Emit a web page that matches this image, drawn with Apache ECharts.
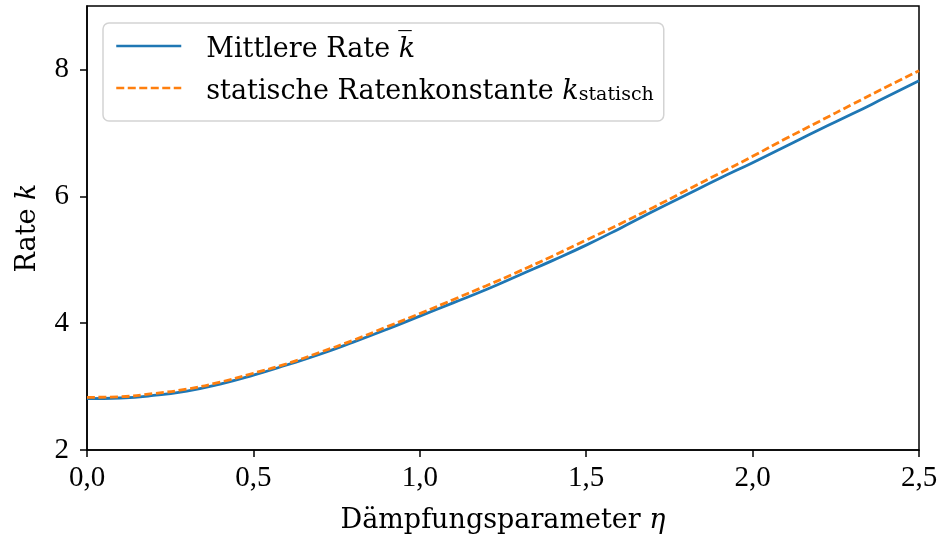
<!DOCTYPE html>
<html>
<head>
<meta charset="utf-8">
<script src="https://cdn.jsdelivr.net/npm/echarts@6/dist/echarts.min.js"></script>
<style>html,body{margin:0;padding:0;background:#fff;}#c{width:943px;height:539px;}</style>
</head>
<body>
<div id="c"></div>
<script>
// ---- data ----
const eta = [0.0,0.1,0.2,0.3,0.4,0.5,0.6,0.7,0.8,0.9,1.0,1.1,1.2,1.3,1.4,1.5,1.6,1.7,1.8,1.9,2.0,2.1,2.2,2.3,2.4,2.5];
const kMean = [2.81,2.82,2.86,2.93,3.04,3.18,3.34,3.51,3.70,3.90,4.11,4.32,4.53,4.76,4.99,5.23,5.49,5.76,6.02,6.28,6.53,6.79,7.05,7.30,7.56,7.82];
const kStatic = [2.83,2.84,2.89,2.96,3.07,3.21,3.36,3.54,3.73,3.94,4.15,4.37,4.59,4.82,5.06,5.31,5.56,5.82,6.09,6.36,6.63,6.91,7.18,7.45,7.72,7.98];
const xTicks = [0.0,0.5,1.0,1.5,2.0,2.5];
const yTicks = [2,4,6,8];
const seriesNames = ['Mittlere Rate', 'statische Ratenkonstante'];

const TICKFONT = 'Liberation Serif';
const TEXTFONT = 'DejaVu Serif';
const FS = 29;
const TFS = 27;

const chart = echarts.init(document.getElementById('c'), null, {renderer:'canvas'});
chart.setOption({
  backgroundColor: '#fff',
  animation: false,
  grid: {left: 87, right: 24, top: 6, bottom: 89, show: true, borderColor: '#000', borderWidth: 1.5},
  legend: {
    orient: 'vertical', left: 103, top: 23,
    padding: [13, 10, 16, 12],
    itemWidth: 65, itemHeight: 14, itemGap: 15,
    backgroundColor: 'rgba(255,255,255,0.8)',
    borderColor: '#d3d3d3', borderWidth: 1.5, borderRadius: 6,
    itemStyle: {opacity: 0},
    lineStyle: {width: 2.5},
    data: seriesNames,
    formatter: function (n) {
      if (n === seriesNames[0]) return '{t|' + n + ' }{i|k\u0305}';
      return '{t|' + n + ' }{i|k}{s|statisch}';
    },
    textStyle: {
      color: '#000', fontFamily: TEXTFONT, fontSize: TFS, padding: [0,0,0,20],
      rich: {
        t: {fontFamily: TEXTFONT, fontSize: TFS, lineHeight: 34, verticalAlign: 'bottom', color:'#000'},
        i: {fontFamily: TEXTFONT, fontStyle: 'italic', fontSize: TFS, lineHeight: 34, verticalAlign: 'bottom', color:'#000'},
        s: {fontFamily: TEXTFONT, fontSize: 19, lineHeight: 20, verticalAlign: 'bottom', color:'#000'}
      }
    }
  },
  xAxis: {
    type: 'value', min: 0, max: 2.5, interval: 0.5,
    name: '{t|Dämpfungsparameter }{i|η}',
    nameLocation: 'middle', nameGap: 57,
    nameTextStyle: {
      rich: {
        t: {fontFamily: TEXTFONT, fontSize: TFS, color: '#000'},
        i: {fontFamily: TEXTFONT, fontStyle: 'italic', fontSize: TFS, color: '#000'}
      }
    },
    axisLine: {show: true, onZero: false, lineStyle: {color: '#000', width: 1.5}},
    axisTick: {show: true, inside: false, length: 7, lineStyle: {color: '#000', width: 1.5}, customValues: xTicks},
    axisLabel: {color: '#000', fontFamily: TICKFONT, fontSize: FS, margin: 14, customValues: xTicks,
      formatter: v => v.toFixed(1).replace('.', ',')},
    splitLine: {show: false}
  },
  yAxis: {
    type: 'value', min: 2, max: 9, interval: 2,
    name: '{t|Rate }{i|k}',
    nameLocation: 'middle', nameGap: 46,
    nameTextStyle: {
      rich: {
        t: {fontFamily: TEXTFONT, fontSize: TFS, color: '#000'},
        i: {fontFamily: TEXTFONT, fontStyle: 'italic', fontSize: TFS, color: '#000'}
      }
    },
    axisLine: {show: true, onZero: false, lineStyle: {color: '#000', width: 1.5}},
    axisTick: {show: true, inside: false, length: 7, lineStyle: {color: '#000', width: 1.5}, customValues: yTicks},
    axisLabel: {color: '#000', fontFamily: TICKFONT, fontSize: FS, margin: 18, customValues: yTicks,
      formatter: v => String(v)},
    splitLine: {show: false}
  },
  series: [
    {
      name: seriesNames[0], type: 'line', smooth: true, showSymbol: false, symbol: 'none',
      data: eta.map((x, i) => [x, kMean[i]]),
      lineStyle: {color: '#1f77b4', width: 2.8}, itemStyle: {color: '#1f77b4'}, z: 2
    },
    {
      name: seriesNames[1], type: 'line', smooth: true, showSymbol: false, symbol: 'none',
      data: eta.map((x, i) => [x, kStatic[i]]),
      lineStyle: {color: '#ff7f0e', width: 2.8, type: [8, 3.5]}, itemStyle: {color: '#ff7f0e'}, z: 3
    }
  ]
});
</script>
</body>
</html>
